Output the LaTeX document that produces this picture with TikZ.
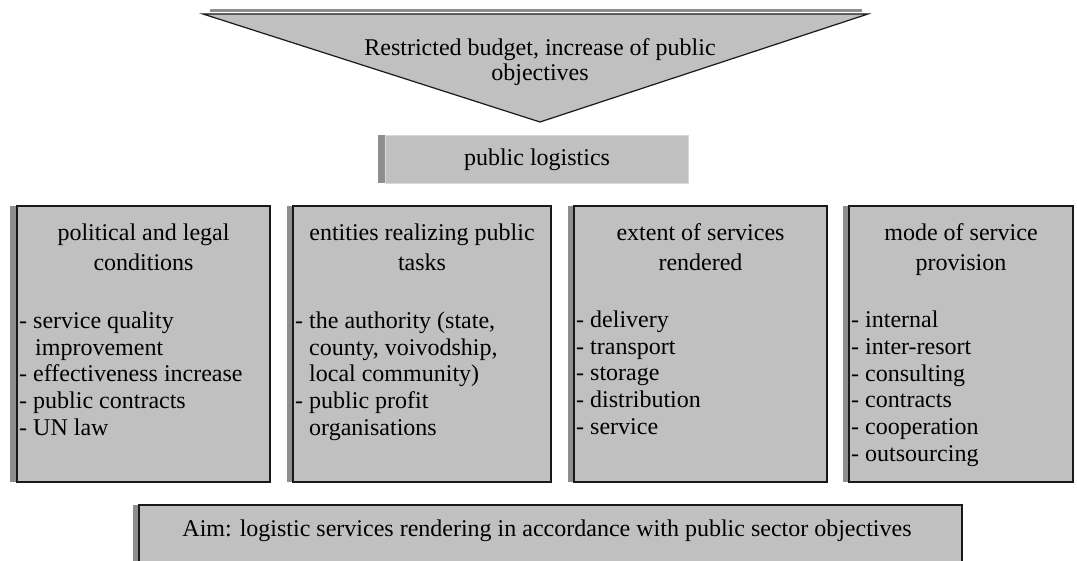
\documentclass[tikz,border=0pt]{standalone}
\usepackage{fontspec}
\setmainfont{Liberation Serif}

\definecolor{boxgray}{HTML}{C0C0C0}
\definecolor{stripgray}{HTML}{8E8E8E}

\begin{document}
\begin{tikzpicture}[x=1pt, y=-1pt,
    panel/.style={fill=boxgray, draw=black!90, line width=1.2pt},
    strip/.style={fill=stripgray},
    head/.style={align=center, inner sep=0pt, anchor=base, font=\fontsize{24}{30}\selectfont},
    items/.style={align=left, inner sep=0pt, anchor=base west, font=\fontsize{24}{26.8}\selectfont}]

    \useasboundingbox (0,0) rectangle (1077,561);

    % Funnel on top
    \draw[stripgray, line width=2.5pt] (210,10.5) -- (862,10.5);
    \draw[panel] (203,14) -- (868,14) -- (540,122) -- cycle;
    \node[head, font=\fontsize{24}{25}\selectfont] (budget) at (540,80.5)
        {Restricted budget, increase of public\\objectives};

    % Public logistics bar
    \fill[strip] (378,135) rectangle (385,183);
    \draw[fill=boxgray, draw=white!85!black, line width=0.6pt] (385,135) rectangle (688,183);
    \node[head] (logistics) at (537,165.5) {public logistics};

    % Column 1
    \fill[strip] (10,206) rectangle (17,482);
    \draw[panel] (17,206) rectangle (270,482);
    \node[head] (politics) at (143.5,270.5) {political and legal\\conditions};
    \node[items] (politicsList) at (19,435.5) {- service quality\\
        \hspace*{16pt}improvement\\- effectiveness increase\\- public contracts\\- UN law};

    % Column 2
    \fill[strip] (287,206) rectangle (293,482);
    \draw[panel] (293,206) rectangle (551,482);
    \node[head] (entities) at (422,270.5) {entities realizing public\\tasks};
    \node[items] (entitiesList) at (295,435.5) {- the authority (state,\\
        \hspace*{14pt}county, voivodship,\\\hspace*{14pt}local community)\\
        - public profit\\\hspace*{14pt}organisations};

    % Column 3
    \fill[strip] (568,206) rectangle (574,482);
    \draw[panel] (574,206) rectangle (827,482);
    \node[head] (extent) at (700.5,270.5) {extent of services\\rendered};
    \node[items] (extentList) at (576,434.5) {- delivery\\- transport\\- storage\\
        - distribution\\- service};

    % Column 4
    \fill[strip] (843,206) rectangle (849,482);
    \draw[panel] (849,206) rectangle (1073,482);
    \node[head] (mode) at (961,270.5) {mode of service\\provision};
    \node[items] (modeList) at (851,461.5) {- internal\\- inter-resort\\- consulting\\
        - contracts\\- cooperation\\- outsourcing};

    % Aim bar, cut at the bottom
    \fill[strip] (133,505) rectangle (139,561);
    \fill[boxgray] (139,505) rectangle (962,561);
    \draw[black!90, line width=1.2pt] (139,561) -- (139,505) -- (962,505) -- (962,561);
    \node[head] (aim) at (547,536.5)
        {Aim: logistic services rendering in accordance with public sector objectives};
\end{tikzpicture}
\end{document}
